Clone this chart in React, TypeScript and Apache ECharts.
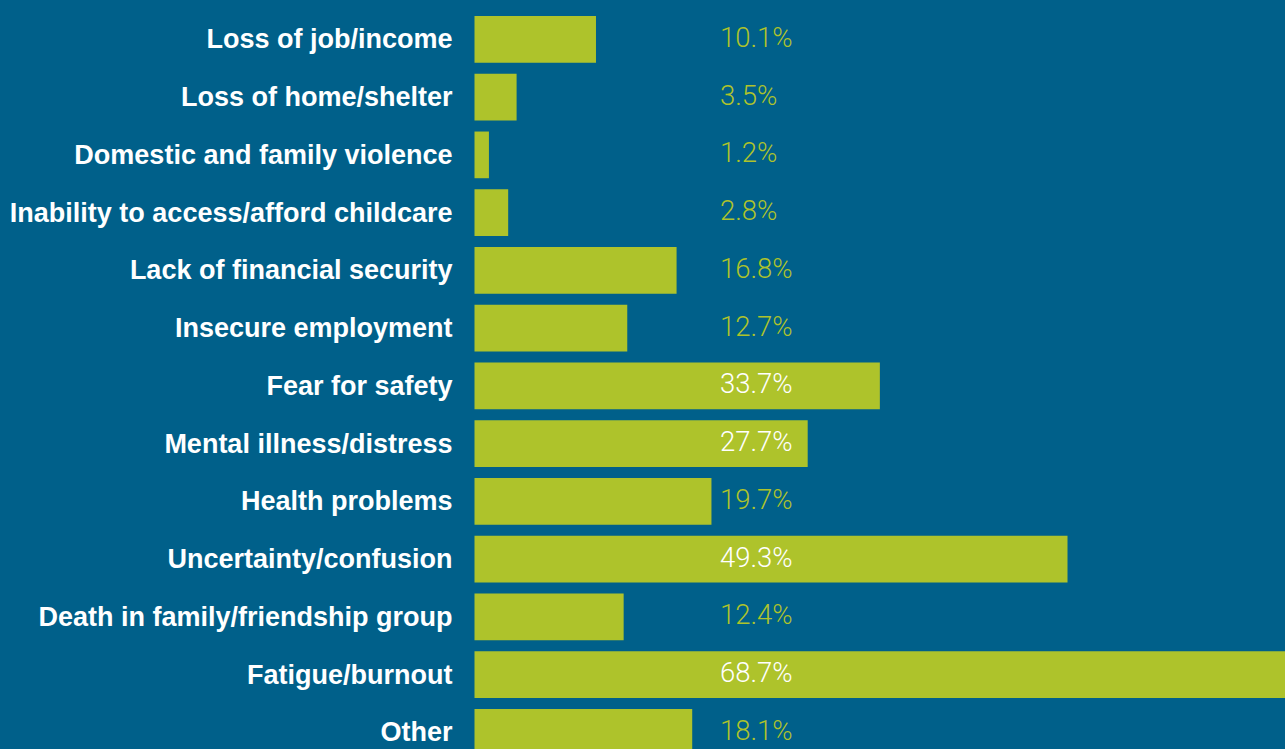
import React, { useEffect, useRef } from "react";
import * as echarts from "echarts";

const categories: string[] = [
  "Loss of job/income",
  "Loss of home/shelter",
  "Domestic and family violence",
  "Inability to access/afford childcare",
  "Lack of financial security",
  "Insecure employment",
  "Fear for safety",
  "Mental illness/distress",
  "Health problems",
  "Uncertainty/confusion",
  "Death in family/friendship group",
  "Fatigue/burnout",
  "Other",
];

const values: number[] = [10.1, 3.5, 1.2, 2.8, 16.8, 12.7, 33.7, 27.7, 19.7, 49.3, 12.4, 68.7, 18.1];

const BG = "#00608A";
const GREEN = "#AEC32B";
const X_MAX = 70;
const GRID_LEFT = 474.5;
const GRID_TOP = 10.5;
const GRID_WIDTH = 842;
const GRID_HEIGHT = 750.75;
const LABEL_X = 245.5;

export default function App() {
  const ref = useRef<HTMLDivElement>(null);

  useEffect(() => {
    if (!ref.current) return;
    const chart = echarts.init(ref.current, undefined, { renderer: "svg" });
    const pxPer = GRID_WIDTH / X_MAX;
    const data = values.map((v) => ({
      value: v,
      label: { color: v * pxPer > LABEL_X ? "#FFFFFF" : GREEN },
    }));
    chart.setOption({
      animation: false,
      backgroundColor: BG,
      grid: { left: GRID_LEFT, top: GRID_TOP, width: GRID_WIDTH, height: GRID_HEIGHT, containLabel: false },
      xAxis: {
        type: "value",
        min: 0,
        max: X_MAX,
        show: false,
        splitLine: { show: false },
      },
      yAxis: {
        type: "category",
        data: categories,
        inverse: true,
        axisLine: { show: false },
        axisTick: { show: false },
        splitLine: { show: false },
        axisLabel: {
          color: "#FFFFFF",
          fontFamily: "Liberation Sans, Arial, sans-serif",
          fontWeight: "bold",
          fontSize: 27,
          margin: 22,
          padding: [0, 0, 8, 0],
        },
      },
      series: [
        {
          type: "bar",
          data,
          barWidth: 46.7,
          itemStyle: { color: GREEN },
          label: {
            show: true,
            position: [LABEL_X, "50%"],
            align: "left",
            verticalAlign: "middle",
            offset: [0, -2],
            formatter: "{c}%",
            fontFamily: "Roboto, sans-serif",
            fontWeight: 300,
            fontSize: 27.5,
          },
        },
      ],
    });
    return () => chart.dispose();
  }, []);

  return (
    <div
      style={{
        position: "fixed",
        left: 0,
        top: 0,
        width: 1285,
        height: 749,
        overflow: "hidden",
        background: BG,
      }}
    >
      <div ref={ref} style={{ width: 1330, height: 780 }} />
    </div>
  );
}
